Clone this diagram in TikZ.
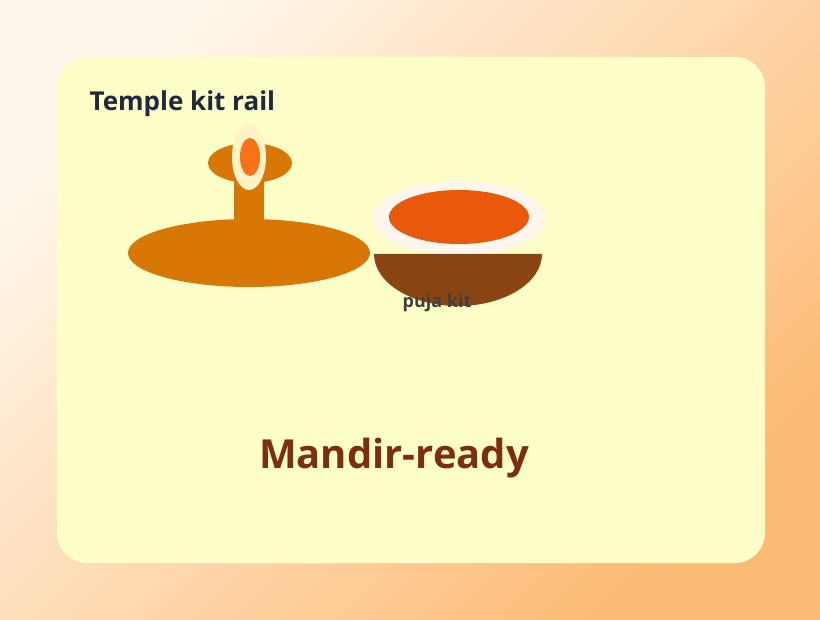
\documentclass[tikz,border=0pt]{standalone}
\usepackage{fontspec}
\setmainfont{Open Sans}
\definecolor{bglight}{HTML}{FFF7EB}
\definecolor{bgdark}{HTML}{FDBA74}
\definecolor{panel}{HTML}{FEFEC8}
\definecolor{brass}{HTML}{D97706}
\definecolor{flameout}{HTML}{FEF3C7}
\definecolor{flamein}{HTML}{F97316}
\definecolor{rim}{HTML}{FFF7ED}
\definecolor{kumkum}{HTML}{EA580C}
\definecolor{bowlbrown}{HTML}{8B4513}
\definecolor{titleink}{HTML}{1E293B}
\definecolor{mandirink}{HTML}{7C2D12}
\tikzset{
  titletext/.style={anchor=west,font=\fontsize{26}{30}\selectfont\bfseries,text=titleink},
  captiontext/.style={font=\fontsize{40}{46}\selectfont\bfseries,text=mandirink},
  kittext/.style={font=\fontsize{18}{22}\selectfont\bfseries,text=black!75}
}
\begin{document}
\begin{tikzpicture}[x=1pt,y=-1pt]
  \useasboundingbox (0,0) rectangle (820,620);
  % backdrop and panel
  \shade[top color=bglight,bottom color=bgdark,shading angle=45] (0,0) rectangle (820,620);
  \fill[panel,rounded corners=30] (57,57) rectangle (765,563);
  % lamp
  \fill[brass] (249,253) ellipse [x radius=121,y radius=34];
  \fill[brass] (234,160) rectangle (264,228);
  \fill[brass] (250,163) ellipse [x radius=42,y radius=20];
  \fill[flameout] (249,157) ellipse [x radius=17,y radius=33];
  \fill[flamein] (250,157) ellipse [x radius=10,y radius=19];
  % bowl
  \fill[rim] (459,218) ellipse [x radius=87,y radius=37];
  \fill[kumkum] (459,217) ellipse [x radius=70,y radius=27];
  \fill[bowlbrown] (374,254) arc [start angle=180,end angle=360,x radius=84,y radius=-52] -- cycle;
  % texts
  \node[titletext] (title) at (86,104) {Temple kit rail};
  \node[kittext] (kit) at (437,303) {puja kit};
  \node[captiontext] (caption) at (394,458) {Mandir-ready};
\end{tikzpicture}
\end{document}
